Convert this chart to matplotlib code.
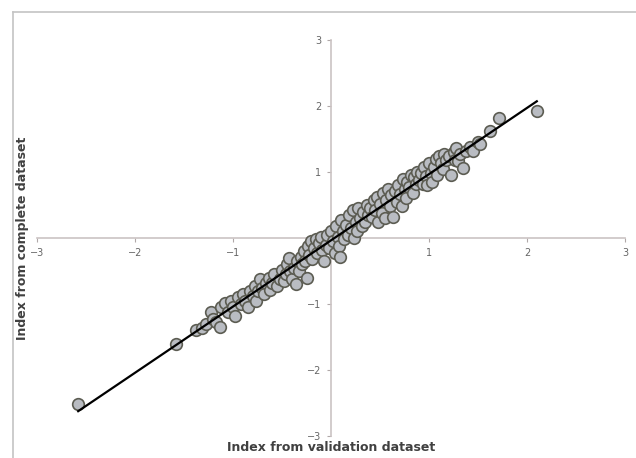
import numpy as np
import matplotlib
matplotlib.use("Agg")
import matplotlib.pyplot as plt
from matplotlib.lines import Line2D

# index values (validation, complete)
val = [-2.58, -1.58, -1.38, -1.32, -1.28, -1.22, -1.20, -1.17, -1.13, -1.12,
       -1.08, -1.05, -1.02, -1.00, -0.98, -0.95, -0.92, -0.90, -0.88, -0.85,
       -0.83, -0.80, -0.78, -0.77, -0.75, -0.72, -0.70, -0.68, -0.66, -0.63,
       -0.62, -0.60, -0.58, -0.55, -0.52, -0.50, -0.48, -0.46, -0.45, -0.43,
       -0.42, -0.40, -0.38, -0.36, -0.35, -0.33, -0.31, -0.30, -0.28, -0.27,
       -0.25, -0.23, -0.22, -0.20, -0.19, -0.17, -0.15, -0.14, -0.12, -0.10,
       -0.09, -0.07, -0.05, -0.04, -0.02, 0.00, 0.02, 0.04, 0.05, 0.07,
       0.08, 0.09, 0.10, 0.12, 0.13, 0.15, 0.17, 0.18, 0.20, 0.22,
       0.23, 0.25, 0.27, 0.28, 0.30, 0.32, 0.33, 0.35, 0.37, 0.38,
       0.40, 0.42, 0.44, 0.45, 0.47, 0.48, 0.50, 0.52, 0.53, 0.55,
       0.56, 0.58, 0.60, 0.61, 0.63, 0.65, 0.67, 0.68, 0.70, 0.72,
       0.73, 0.75, 0.77, 0.78, 0.80, 0.82, 0.84, 0.85, 0.87, 0.88,
       0.90, 0.92, 0.94, 0.95, 0.97, 0.98, 1.00, 1.02, 1.03, 1.05,
       1.07, 1.08, 1.10, 1.12, 1.14, 1.15, 1.17, 1.20, 1.22, 1.25,
       1.27, 1.28, 1.30, 1.32, 1.35, 1.38, 1.42, 1.45, 1.50, 1.52,
       1.62, 1.71, 2.10]
comp = [-2.52, -1.61, -1.40, -1.36, -1.30, -1.12, -1.22, -1.28, -1.35, -1.05,
        -0.98, -1.12, -0.95, -1.05, -1.18, -0.90, -1.00, -0.85, -0.95, -1.05,
        -0.80, -0.88, -0.72, -0.95, -0.80, -0.62, -0.75, -0.85, -0.68, -0.60,
        -0.78, -0.68, -0.55, -0.72, -0.62, -0.48, -0.65, -0.55, -0.40, -0.30,
        -0.50, -0.62, -0.45, -0.70, -0.35, -0.50, -0.28, -0.40, -0.20, -0.35,
        -0.60, -0.12, -0.25, -0.05, -0.32, -0.15, -0.02, -0.22, -0.08, 0.02,
        -0.18, -0.35, -0.10, 0.05, -0.15, 0.10, -0.05, -0.22, 0.18, 0.02,
        -0.12, -0.28, 0.28, 0.10, -0.02, 0.20, 0.05, 0.35, 0.15, 0.42,
        0.00, 0.25, 0.10, 0.45, 0.30, 0.18, 0.40, 0.25, 0.50, 0.35,
        0.45, 0.32, 0.58, 0.42, 0.62, 0.25, 0.52, 0.38, 0.68, 0.30,
        0.58, 0.74, 0.48, 0.65, 0.32, 0.72, 0.55, 0.80, 0.66, 0.48,
        0.90, 0.74, 0.60, 0.85, 0.78, 0.95, 0.68, 0.92, 0.82, 1.00,
        0.88, 0.98, 0.82, 1.08, 0.94, 0.80, 1.14, 0.98, 0.85, 1.08,
        1.20, 0.95, 1.24, 1.14, 1.04, 1.27, 1.18, 1.24, 0.96, 1.30,
        1.18, 1.37, 1.16, 1.28, 1.06, 1.32, 1.38, 1.32, 1.45, 1.42,
        1.62, 1.82, 1.92]
ticks = [-3, -2, -1, 1, 2, 3]

x = np.array(val)
y = np.array(comp)
slope, icpt = np.polyfit(x, y, 1)
xl = np.array([x.min(), x.max()])

fig = plt.figure(figsize=(6.36, 4.58), dpi=100)
ax = fig.add_axes([0.0582, 0.048, 0.9245, 0.8646])

ax.scatter(x, y, s=70, facecolor="#b9bcc2", edgecolor="#5c5c52",
           linewidth=1.2, zorder=3)
ax.plot(xl, slope * xl + icpt, color="black", lw=1.6, zorder=4)

ax.set_xlim(-3, 3)
ax.set_ylim(-3, 3)
for s in ["left", "bottom"]:
    ax.spines[s].set_position("zero")
    ax.spines[s].set_color("#cbc3c3")
    ax.spines[s].set_linewidth(1.2)
ax.spines["right"].set_visible(False)
ax.spines["top"].set_visible(False)
ax.set_xticks(ticks)
ax.set_yticks(ticks)
ax.tick_params(length=3, color="#b0a8a8", labelcolor="#666666",
               labelsize=7, pad=4)

fig.text(0.52, 0.022, "Index from validation dataset", ha="center",
         va="center", fontsize=9, fontweight="bold", color="#404040")
fig.text(0.035, 0.48, "Index from complete dataset", ha="center",
         va="center", rotation=90, fontsize=9, fontweight="bold",
         color="#404040")

# grey frame at top and left
fig.add_artist(Line2D([13 / 636, 1], [1 - 12 / 458, 1 - 12 / 458],
                      color="#c4c4c4", lw=1.2, transform=fig.transFigure))
fig.add_artist(Line2D([13 / 636, 13 / 636], [0, 1 - 12 / 458],
                      color="#c4c4c4", lw=1.2, transform=fig.transFigure))

fig.savefig("out.png", dpi=100)
